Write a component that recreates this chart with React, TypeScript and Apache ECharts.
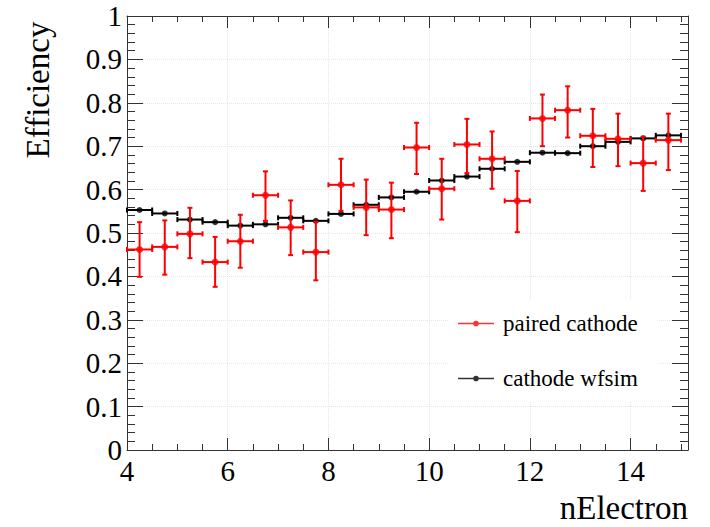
import { useEffect, useRef } from "react";
import * as echarts from "echarts";

// nElectron bin centres (bin width 0.5)
const binCenters = [
  4.25, 4.75, 5.25, 5.75, 6.25, 6.75, 7.25, 7.75, 8.25, 8.75, 9.25,
  9.75, 10.25, 10.75, 11.25, 11.75, 12.25, 12.75, 13.25, 13.75, 14.25, 14.75,
];
const binHalfWidth = 0.25;

// cathode wfsim efficiency
const wfsimEff = [
  0.553, 0.545, 0.531, 0.525, 0.517, 0.52, 0.535, 0.528, 0.544, 0.565, 0.582,
  0.595, 0.621, 0.63, 0.648, 0.664, 0.685, 0.684, 0.7, 0.71, 0.718, 0.725,
];

// paired cathode efficiency with error band
const pairedEff = [
  0.462, 0.468, 0.498, 0.433, 0.481, 0.587, 0.513, 0.456, 0.611, 0.559, 0.554,
  0.697, 0.602, 0.704, 0.671, 0.574, 0.764, 0.783, 0.724, 0.717, 0.661, 0.714,
];
const pairedLow = [
  0.399, 0.404, 0.442, 0.376, 0.42, 0.528, 0.449, 0.391, 0.551, 0.495, 0.488,
  0.636, 0.531, 0.638, 0.602, 0.502, 0.7, 0.72, 0.652, 0.654, 0.597, 0.645,
];
const pairedHigh = [
  0.525, 0.529, 0.558, 0.491, 0.542, 0.642, 0.575, 0.526, 0.671, 0.623, 0.616,
  0.754, 0.671, 0.763, 0.734, 0.643, 0.819, 0.838, 0.786, 0.775, 0.722, 0.775,
];

const seriesNames = ["paired cathode", "cathode wfsim"];
const xTitle = "nElectron";
const yTitle = "Efficiency";

const FONT = "Liberation Serif";
const RED = "#ff0000";
const BLACK = "#000000";
const AXIS = "#333333";

const legendIcon =
  "path://M0 4.2 H36 V5.8 H0 Z M15.2 5 A2.8 2.8 0 1 1 20.8 5 A2.8 2.8 0 1 1 15.2 5 Z";

function makeRenderer(color: string, withVertical: boolean) {
  return (_params: any, api: any) => {
    const x = api.value(0);
    const y = api.value(1);
    const l = api.coord([x - binHalfWidth, y]);
    const r = api.coord([x + binHalfWidth, y]);
    const cap = 2.5;
    const style = { stroke: color, lineWidth: 2 };
    const children: any[] = [
      { type: "line", shape: { x1: l[0], y1: l[1], x2: r[0], y2: r[1] }, style },
      { type: "line", shape: { x1: l[0], y1: l[1] - cap, x2: l[0], y2: l[1] + cap }, style },
      { type: "line", shape: { x1: r[0], y1: r[1] - cap, x2: r[0], y2: r[1] + cap }, style },
    ];
    if (withVertical) {
      const lo = api.coord([x, api.value(2)]);
      const hi = api.coord([x, api.value(3)]);
      children.push(
        { type: "line", shape: { x1: lo[0], y1: lo[1], x2: hi[0], y2: hi[1] }, style },
        { type: "line", shape: { x1: lo[0] - cap, y1: lo[1], x2: lo[0] + cap, y2: lo[1] }, style },
        { type: "line", shape: { x1: hi[0] - cap, y1: hi[1], x2: hi[0] + cap, y2: hi[1] }, style }
      );
    }
    return { type: "group", children };
  };
}

function axisCommon(majorLen: number, minorLen: number, minorSplit: number) {
  return {
    axisLine: { show: true, onZero: false, lineStyle: { color: AXIS, width: 1 } },
    axisTick: { show: true, inside: true, length: majorLen, lineStyle: { color: AXIS, width: 1 } },
    minorTick: { show: true, splitNumber: minorSplit, length: minorLen, lineStyle: { color: AXIS, width: 1 } },
  };
}

const tickRich = { s: { fontFamily: FONT, fontSize: 29, color: "#000" } };

export default function App() {
  const ref = useRef<HTMLDivElement>(null);

  useEffect(() => {
    if (!ref.current) return;
    const chart = echarts.init(ref.current, undefined, { renderer: "svg" });

    const xBase = { type: "value", min: 4, max: 15.14, interval: 2 };
    const yBase = { type: "value", min: 0, max: 1, interval: 0.1 };

    const wfsimData = binCenters.map((x, i) => [x, wfsimEff[i]]);
    const pairedData = binCenters.map((x, i) => [x, pairedEff[i], pairedLow[i], pairedHigh[i]]);

    chart.setOption({
      animation: false,
      backgroundColor: "#ffffff",
      textStyle: { fontFamily: FONT },
      grid: { left: 127, right: 22, top: 16, bottom: 77, containLabel: false },
      xAxis: [
        {
          ...xBase,
          position: "bottom",
          ...axisCommon(12, 6, 4),
          axisLabel: {
            showMaxLabel: false,
            fontFamily: FONT,
            fontSize: 29,
            color: "#000",
            margin: 6,
            formatter: (v: number) => `{s|${v}}`,
            rich: tickRich,
          },
          splitLine: { show: true, lineStyle: { type: "dotted", color: "#e6e6e6", width: 1 } },
        },
        {
          ...xBase,
          position: "top",
          ...axisCommon(12, 6, 4),
          axisLabel: { show: false },
          splitLine: { show: false },
        },
      ],
      yAxis: [
        {
          ...yBase,
          position: "left",
          ...axisCommon(16, 8, 5),
          axisLabel: {
            fontFamily: FONT,
            fontSize: 29,
            color: "#000",
            margin: 5,
            formatter: (v: number) => `{s|${v}}`,
            rich: tickRich,
          },
          splitLine: { show: true, lineStyle: { type: "dotted", color: "#e6e6e6", width: 1 } },
        },
        {
          ...yBase,
          position: "right",
          ...axisCommon(16, 8, 5),
          axisLabel: { show: false },
          splitLine: { show: false },
        },
      ],
      legend: {
        orient: "vertical",
        left: 448,
        top: 300,
        padding: [12, 20, 12, 10],
        itemGap: 32,
        itemWidth: 36,
        itemHeight: 10,
        backgroundColor: "#ffffff",
        selectedMode: false,
        data: [
          { name: seriesNames[0], icon: legendIcon },
          { name: seriesNames[1], icon: legendIcon },
        ],
        formatter: (name: string) => `{s|${name}}`,
        textStyle: {
          fontFamily: FONT,
          fontSize: 23,
          color: "#000",
          padding: [0, 0, 0, 4],
          rich: { s: { fontFamily: FONT, fontSize: 23, color: "#000" } },
        },
      },
      graphic: [
        {
          type: "text",
          x: 38,
          y: 90,
          rotation: Math.PI / 2,
          style: {
            text: yTitle,
            fontFamily: FONT,
            fontSize: 33,
            fill: "#000",
            align: "center",
            verticalAlign: "middle",
          },
        },
        {
          type: "text",
          x: 688,
          y: 508,
          style: {
            text: xTitle,
            fontFamily: FONT,
            fontSize: 33,
            fill: "#000",
            align: "right",
            verticalAlign: "middle",
          },
        },
      ],
      series: [
        {
          type: "custom",
          name: seriesNames[1] + " err",
          renderItem: makeRenderer(BLACK, false),
          data: wfsimData,
          encode: { x: 0, y: 1 },
          z: 2,
        },
        {
          type: "scatter",
          name: seriesNames[1],
          data: wfsimData,
          symbol: "circle",
          symbolSize: 6,
          itemStyle: { color: BLACK },
          z: 3,
        },
        {
          type: "custom",
          name: seriesNames[0] + " err",
          renderItem: makeRenderer(RED, true),
          data: pairedData,
          encode: { x: 0, y: 1 },
          z: 4,
        },
        {
          type: "scatter",
          name: seriesNames[0],
          data: pairedData.map((d) => [d[0], d[1]]),
          symbol: "circle",
          symbolSize: 7,
          itemStyle: { color: RED },
          z: 5,
        },
      ],
    });

    return () => chart.dispose();
  }, []);

  return (
    <div
      ref={ref}
      style={{ position: "absolute", left: 0, top: 0, width: 710, height: 527, background: "#fff" }}
    />
  );
}
